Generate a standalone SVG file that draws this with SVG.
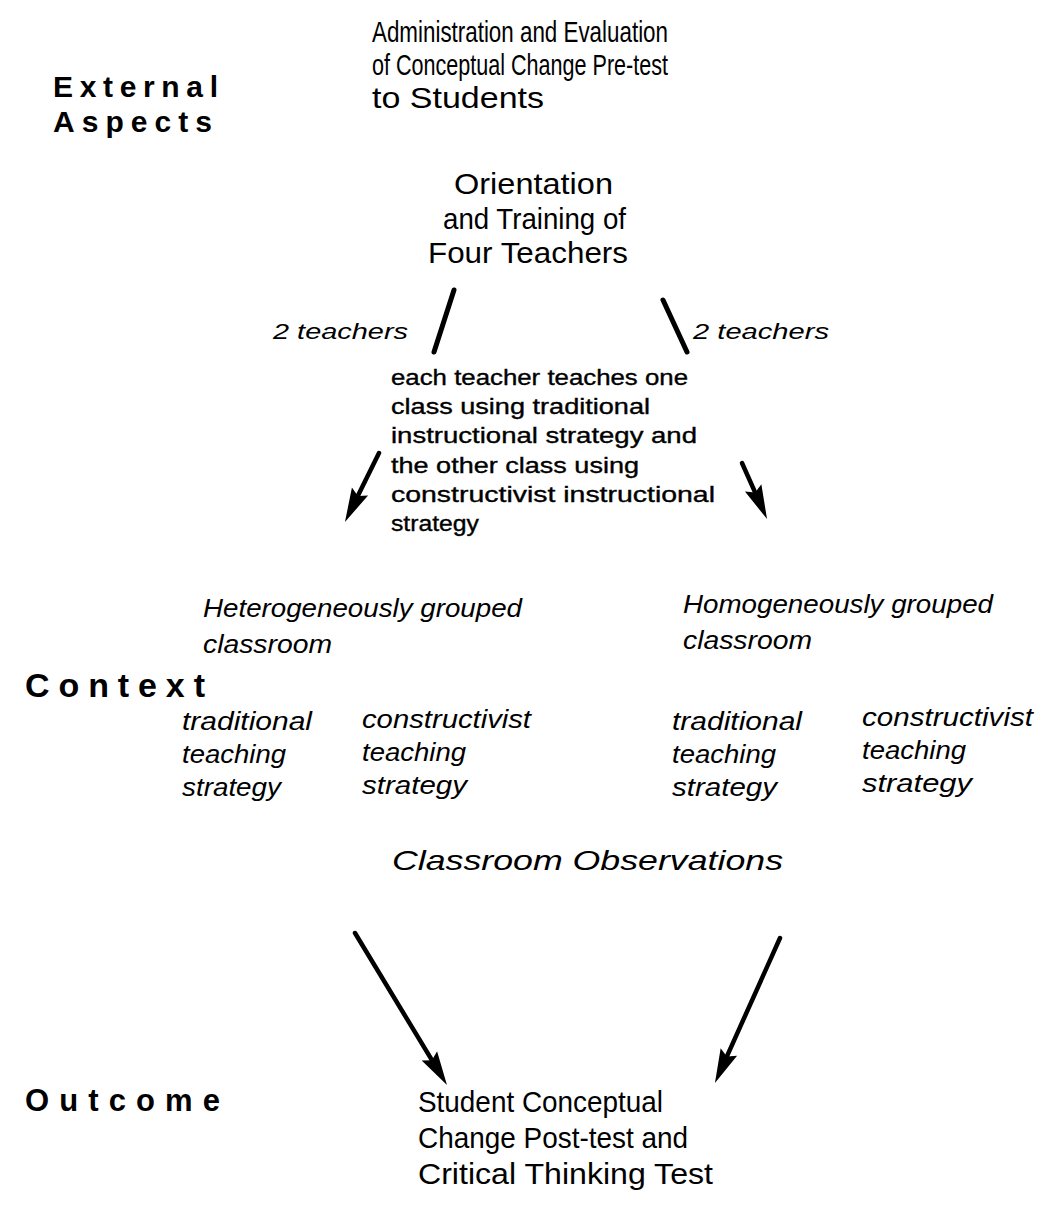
<svg xmlns="http://www.w3.org/2000/svg" width="1046" height="1224" viewBox="0 0 1046 1224">
<defs>
<style>
.t{font-family:"Liberation Sans",Arial,sans-serif;fill:#000}
.main{font-size:30px}
.para{font-size:21.5px;stroke:#000;stroke-width:0.35px}
.lab{font-size:22px;font-style:italic}
.grp{font-size:26px;font-style:italic}
.col{font-size:25px;font-style:italic}
.obs{font-size:28px;font-style:italic}
.hd{font-weight:bold;font-size:30px}
.edge{stroke:#000;stroke-width:4.5;fill:none;stroke-linecap:round}
</style>
<marker id="ah" markerUnits="userSpaceOnUse" markerWidth="40" markerHeight="24" viewBox="0 -12 40 24" refX="19" refY="0" orient="auto">
<path d="M0,-9 L34,0 L0,9 L5,0 z" fill="#000"/>
</marker>
</defs>
<rect width="1046" height="1224" fill="#fff"/>

<g id="label-external" class="t hd">
<text x="53" y="97" textLength="165" lengthAdjust="spacing">External</text>
<text x="53" y="132" textLength="159" lengthAdjust="spacing">Aspects</text>
</g>

<g id="node-pretest" class="t main">
<text x="372" y="42" textLength="296" lengthAdjust="spacingAndGlyphs">Administration and Evaluation</text>
<text x="372" y="75" textLength="296" lengthAdjust="spacingAndGlyphs">of Conceptual Change Pre-test</text>
<text x="372" y="108" textLength="172" lengthAdjust="spacingAndGlyphs">to Students</text>
</g>

<g id="node-orientation" class="t main">
<text x="454" y="194" textLength="159" lengthAdjust="spacingAndGlyphs">Orientation</text>
<text x="443" y="229" textLength="183" lengthAdjust="spacingAndGlyphs">and Training of</text>
<text x="428" y="263" textLength="200" lengthAdjust="spacingAndGlyphs">Four Teachers</text>
</g>

<g id="label-2teachers-left" class="t lab">
<text x="273" y="339" textLength="135" lengthAdjust="spacingAndGlyphs">2 teachers</text>
</g>
<g id="label-2teachers-right" class="t lab">
<text x="693" y="339" textLength="136" lengthAdjust="spacingAndGlyphs">2 teachers</text>
</g>

<g id="node-each-teacher" class="t para">
<text x="391" y="385" textLength="297" lengthAdjust="spacingAndGlyphs">each teacher teaches one</text>
<text x="391" y="414" textLength="259" lengthAdjust="spacingAndGlyphs">class using traditional</text>
<text x="391" y="443" textLength="306" lengthAdjust="spacingAndGlyphs">instructional strategy and</text>
<text x="391" y="473" textLength="248" lengthAdjust="spacingAndGlyphs">the other class using</text>
<text x="391" y="502" textLength="324" lengthAdjust="spacingAndGlyphs">constructivist instructional</text>
<text x="391" y="531" textLength="88" lengthAdjust="spacingAndGlyphs">strategy</text>
</g>

<g id="node-heterogeneous" class="t grp">
<text x="203" y="617" textLength="319" lengthAdjust="spacingAndGlyphs">Heterogeneously grouped</text>
<text x="203" y="653" textLength="129" lengthAdjust="spacingAndGlyphs">classroom</text>
</g>

<g id="node-homogeneous" class="t grp">
<text x="683" y="613" textLength="310" lengthAdjust="spacingAndGlyphs">Homogeneously grouped</text>
<text x="683" y="649" textLength="129" lengthAdjust="spacingAndGlyphs">classroom</text>
</g>

<g id="label-context" class="t hd">
<text x="25" y="697" style="font-size:34px" textLength="180" lengthAdjust="spacing">Context</text>
</g>

<g id="node-het-traditional" class="t col">
<text x="182" y="730" textLength="130" lengthAdjust="spacingAndGlyphs">traditional</text>
<text x="182" y="763" textLength="104" lengthAdjust="spacingAndGlyphs">teaching</text>
<text x="182" y="796" textLength="99" lengthAdjust="spacingAndGlyphs">strategy</text>
</g>
<g id="node-het-constructivist" class="t col">
<text x="362" y="728" textLength="169" lengthAdjust="spacingAndGlyphs">constructivist</text>
<text x="362" y="761" textLength="104" lengthAdjust="spacingAndGlyphs">teaching</text>
<text x="362" y="794" textLength="105" lengthAdjust="spacingAndGlyphs">strategy</text>
</g>
<g id="node-hom-traditional" class="t col">
<text x="672" y="730" textLength="130" lengthAdjust="spacingAndGlyphs">traditional</text>
<text x="672" y="763" textLength="104" lengthAdjust="spacingAndGlyphs">teaching</text>
<text x="672" y="796" textLength="105" lengthAdjust="spacingAndGlyphs">strategy</text>
</g>
<g id="node-hom-constructivist" class="t col">
<text x="862" y="726" textLength="171" lengthAdjust="spacingAndGlyphs">constructivist</text>
<text x="862" y="759" textLength="104" lengthAdjust="spacingAndGlyphs">teaching</text>
<text x="862" y="792" textLength="110" lengthAdjust="spacingAndGlyphs">strategy</text>
</g>

<g id="node-observations" class="t obs">
<text x="392" y="870" textLength="391" lengthAdjust="spacingAndGlyphs">Classroom Observations</text>
</g>

<g id="label-outcome" class="t hd">
<text x="25" y="1111" style="font-size:31px" textLength="195" lengthAdjust="spacing">Outcome</text>
</g>

<g id="node-posttest" class="t main">
<text x="418" y="1112" textLength="245" lengthAdjust="spacingAndGlyphs">Student Conceptual</text>
<text x="418" y="1148" textLength="270" lengthAdjust="spacingAndGlyphs">Change Post-test and</text>
<text x="418" y="1184" textLength="295" lengthAdjust="spacingAndGlyphs">Critical Thinking Test</text>
</g>

<g id="connectors">
<line class="edge" x1="454" y1="290" x2="434" y2="352" style="stroke-width:5"/>
<line class="edge" x1="663" y1="300" x2="687" y2="352" style="stroke-width:5"/>
<line class="edge" x1="379" y1="453" x2="351.6" y2="508.5" marker-end="url(#ah)"/>
<line class="edge" x1="742" y1="463" x2="760.9" y2="505.3" marker-end="url(#ah)"/>
<line class="edge" x1="355" y1="933" x2="439.2" y2="1072.2" marker-end="url(#ah)"/>
<line class="edge" x1="780" y1="938" x2="721.1" y2="1069.3" marker-end="url(#ah)"/>
</g>
</svg>
